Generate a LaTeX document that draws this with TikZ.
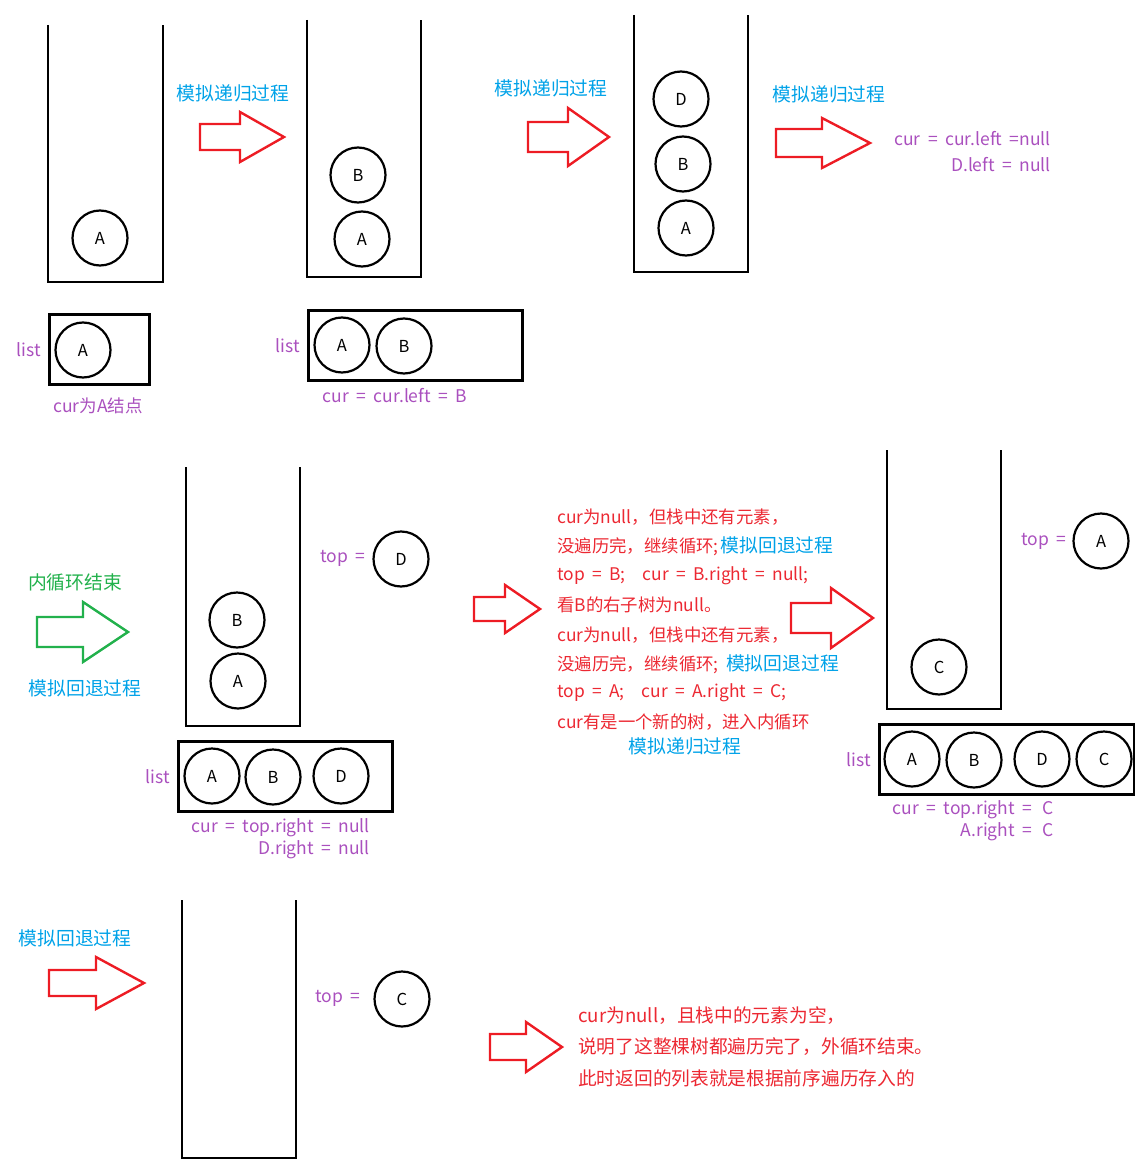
\documentclass[tikz,border=0pt]{standalone}
\usepackage{fontspec}
\setmainfont{Noto Sans CJK SC}[WordSpace=1.9]
\definecolor{redc}{RGB}{237,28,36}
\definecolor{txtred}{RGB}{236,40,50}
\definecolor{bluec}{RGB}{0,162,232}
\definecolor{purp}{RGB}{170,80,190}
\definecolor{greenc}{RGB}{34,177,76}
% block arrow: x0, xhead, xtip, ycenter, shaft half, head half, colour
\newcommand\blkarrow[7]{%
  \draw[line width=2.4pt,#7,line join=miter]
    (#1,#4-#5) -- (#2,#4-#5) -- (#2,#4-#6) -- (#3,#4) -- (#2,#4+#6) -- (#2,#4+#5) -- (#1,#4+#5) -- cycle;}
\newcommand\stackbox[4]{%
  \draw[stk] (#1,#3) -- (#1,#4) -- (#2,#4) -- (#2,#3);}
\newcommand\bluepart[1]{{\color{bluec}\fontsize{18.8}{20}\selectfont #1}}
\begin{document}
\begin{tikzpicture}[x=1pt,y=-1pt,
  nd/.style={circle,draw,line width=2.2pt,minimum size=55pt,inner sep=0pt,font=\fontsize{16.5}{16}\selectfont},
  stk/.style={line width=2.6pt,line join=miter},
  lbox/.style={draw,line width=2.8pt,inner sep=0pt,anchor=north west},
  ptxt/.style={text=purp,font=\fontsize{17.5}{20}\selectfont,inner sep=0pt},
  btxt/.style={text=bluec,font=\fontsize{18.8}{20}\selectfont,inner sep=0pt},
  gtxt/.style={text=greenc,font=\fontsize{18.8}{20}\selectfont,inner sep=0pt},
  rtxt/.style={text=txtred,font=\fontsize{17.4}{20}\selectfont,inner sep=0pt,anchor=west},
  rtxtb/.style={text=txtred,font=\fontsize{18.7}{20}\selectfont,inner sep=0pt,anchor=west},
  ]
\useasboundingbox (0,0) rectangle (1134,1166);

% ---------- panel 1 ----------
\stackbox{48}{163}{25}{282}
\node[nd] (s1a) at (100,238) {A};

\node[btxt] (t1) at (233,93) {模拟递归过程};
\blkarrow{200}{240}{284}{137}{13}{25}{redc}

\stackbox{307}{421}{20}{277}
\node[nd] (s2b) at (358,175) {B};
\node[nd] (s2a) at (362,239) {A};

\node[btxt] (t2) at (551,88) {模拟递归过程};
\blkarrow{528}{568}{609}{137}{15}{29}{redc}

\stackbox{634}{748}{15}{272}
\node[nd] (s3d) at (681,99) {D};
\node[nd] (s3b) at (683,164) {B};
\node[nd] (s3a) at (686,228) {A};

\node[btxt] (t3) at (829,94) {模拟递归过程};
\blkarrow{776}{822}{870}{143}{14}{25}{redc}
\node[ptxt,anchor=east] (c3a) at (1051,139) {cur = cur.left =null};
\node[ptxt,anchor=east] (c3b) at (1051,165) {D.left = null};

\node[lbox,minimum width=100pt,minimum height=70pt] (L1) at (48,313) {};
\node[nd] (l1a) at (83,350) {A};
\node[ptxt] (list1) at (29,350) {list};
\node[ptxt] (c1) at (98,406) {cur为A结点};

\node[lbox,minimum width=214pt,minimum height=70pt] (L2) at (307,309) {};
\node[nd] (l2a) at (342,345) {A};
\node[nd] (l2b) at (404,346) {B};
\node[ptxt] (list2) at (288,346) {list};
\node[ptxt] (c2) at (395,396) {cur = cur.left = B};

% ---------- panel 2 ----------
\node[gtxt] (g1) at (75,582) {内循环结束};
\blkarrow{37}{83}{128}{632}{15}{30}{greenc}
\node[btxt] (b4) at (85,688) {模拟回退过程};

\stackbox{186}{300}{467}{726}
\node[nd] (s4b) at (237,620) {B};
\node[nd] (s4a) at (238,681) {A};
\node[ptxt] (top4) at (343,558) {top =};
\node[nd] (top4d) at (401,559) {D};

\node[lbox,minimum width=214pt,minimum height=70pt] (L3) at (177,740) {};
\node[nd] (l3a) at (212,776) {A};
\node[nd] (l3b) at (273,777) {B};
\node[nd] (l3d) at (341,776) {D};
\node[ptxt] (list3) at (158,777) {list};
\node[ptxt,anchor=east] (c4a) at (370,828) {cur = top.right = null};
\node[ptxt,anchor=east] (c4b) at (370,850) {D.right = null};

\blkarrow{474}{505}{540}{609}{12}{24}{redc}

\node[rtxt] (r1) at (557,517) {cur为null，但栈中还有元素，};
\node[rtxt] (r2) at (557,546) {没遍历完，继续循环;\hspace{2pt}\bluepart{模拟回退过程}};
\node[rtxt] (r3) at (557,576) {top = B;\hspace{17pt}cur = B.right = null;};
\node[rtxt] (r4) at (557,605) {看B的右子树为null。};
\node[rtxt] (r5) at (557,635) {cur为null，但栈中还有元素，};
\node[rtxt] (r6) at (557,664) {没遍历完，继续循环; \bluepart{模拟回退过程}};
\node[rtxt] (r7) at (557,693) {top = A;\hspace{17pt}cur = A.right = C;};
\node[rtxt] (r8) at (557,722) {cur有是一个新的树，进入内循环};
\node[btxt] (r9) at (685,746) {模拟递归过程};

\blkarrow{791}{831}{873}{618}{15}{30}{redc}

\stackbox{887}{1001}{450}{709}
\node[nd] (s5c) at (939,667) {C};
\node[ptxt] (top5) at (1044,541) {top =};
\node[nd] (top5a) at (1101,541) {A};

\node[lbox,minimum width=255pt,minimum height=70pt] (L4) at (878,723) {};
\node[nd] (l4a) at (912,759) {A};
\node[nd] (l4b) at (974,760) {B};
\node[nd] (l4d) at (1042,759) {D};
\node[nd] (l4c) at (1104,759) {C};
\node[ptxt] (list4) at (859,760) {list};
\node[ptxt,anchor=east] (c5a) at (1054,810) {cur = top.right =\hspace{3pt} C};
\node[ptxt,anchor=east] (c5b) at (1054,832) {A.right =\hspace{3pt} C};

% ---------- panel 3 ----------
\node[btxt] (b6) at (75,938) {模拟回退过程};
\blkarrow{49}{96}{144}{983}{13}{26}{redc}

\stackbox{182}{296}{900}{1158}
\node[ptxt] (top6) at (338,998) {top =};
\node[nd] (top6c) at (402,999) {C};

\blkarrow{490}{526}{562}{1047}{13}{25}{redc}
\node[rtxtb] (e1) at (578,1016) {cur为null，且栈中的元素为空，};
\node[rtxtb] (e2) at (578,1047) {说明了这整棵树都遍历完了，外循环结束。};
\node[rtxtb] (e3) at (578,1078) {此时返回的列表就是根据前序遍历存入的};
\end{tikzpicture}
\end{document}
